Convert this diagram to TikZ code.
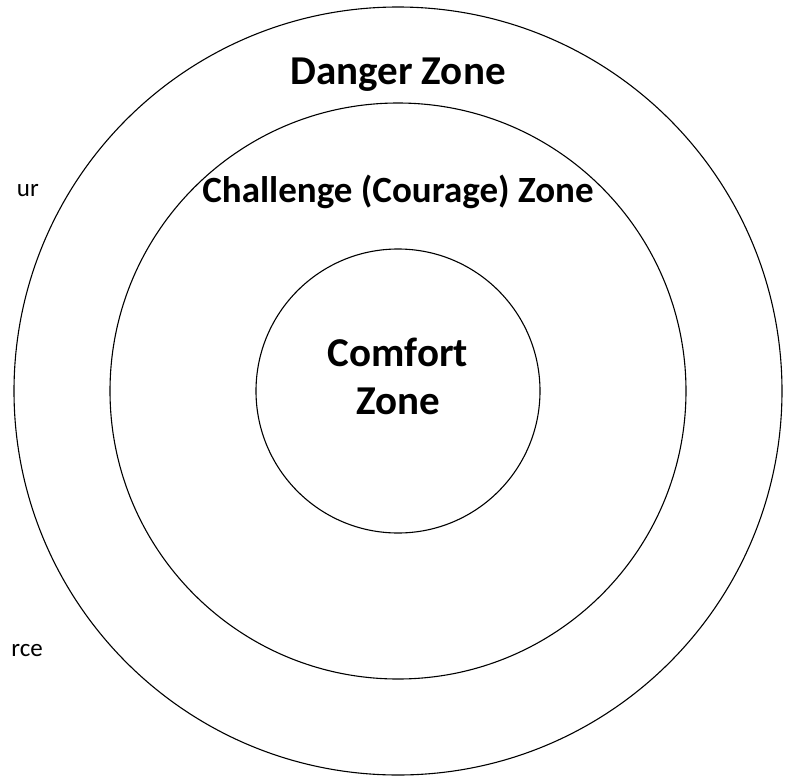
\documentclass[tikz,border=0pt]{standalone}
\usepackage{fontspec}
\setmainfont{Carlito}
\usepackage{tikz}
\usetikzlibrary{positioning}

\tikzset{
  zone/.style={draw=black,line width=1.1pt},
  zonelabel/.style={font=\bfseries\fontsize{41}{49}\selectfont,inner sep=0pt,anchor=base},
  sidetext/.style={font=\fontsize{25}{30}\selectfont,inner sep=0pt,anchor=base east}
}

\begin{document}
\begin{tikzpicture}[x=1pt,y=-1pt]
  \useasboundingbox (0,0) rectangle (785,777);
  \coordinate (centre) at (398,391);
  % the three zones
  \draw[zone] (centre) circle[radius=384];
  \draw[zone] (centre) circle[radius=288];
  \draw[zone] (centre) circle[radius=142];
  % labels
  \node[zonelabel] (danger) at (398,84) {Danger Zone};
  \node[zonelabel,font=\bfseries\fontsize{37}{44}\selectfont] (challenge) at (398,202) {Challenge (Courage) Zone};
  \node[zonelabel] (comfort) at (398,366) {Comfort};
  \node[zonelabel] (comfortb) at (398,414) {Zone};
  % clipped text at the left edge
  \node[sidetext] (leftup) at (39,196) {ur};
  \node[sidetext] (leftdown) at (43,656) {rce};
\end{tikzpicture}
\end{document}
